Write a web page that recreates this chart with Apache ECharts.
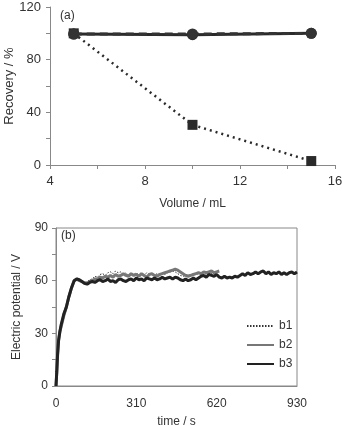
<!DOCTYPE html>
<html>
<head>
<meta charset="utf-8">
<script src="https://cdn.jsdelivr.net/npm/echarts@6/dist/echarts.min.js"></script>
<style>
  html, body { margin: 0; padding: 0; background: #fff; }
  #chart { width: 342px; height: 426px; }
</style>
</head>
<body>
<div id="chart"></div>
<script>
// (a) recovery vs volume
const volumes = [5, 10, 15];
const recoverySolid = [99.5, 99, 100];
const recoveryDashed = [99.5, 99.5, 100];
const recoveryDotted = [100, 30.5, 3];

// (b) electric potential vs time
const b1Time = [0, 3, 6, 10, 15, 20, 25, 30, 40, 50, 60, 70, 80, 90, 100, 110, 120, 130,
  140, 150, 160, 170, 180, 190, 200, 210, 220, 230, 240, 250, 260, 270, 280, 290, 300,
  310, 320, 330, 340, 350, 360, 370, 380, 390, 400, 410, 420, 430, 440, 450, 460, 470,
  480, 490, 500, 510, 520, 530, 540, 550, 560, 570, 580, 590, 600, 610, 620];
const b1Values = [0, 9, 19, 27, 32, 35, 38, 41, 46, 52, 57, 60, 61, 60.5, 60, 59, 59.5, 60.5,
  61, 62.5, 62, 63.5, 64, 63, 64.5, 65, 64, 65.5, 64.5, 65, 63.5, 64.5, 63, 64, 63.5,
  64.5, 63, 64, 63, 64.5, 63.5, 64, 63, 64, 63.5, 64, 63.5, 64.5, 65, 65.5, 65, 64,
  63, 62.5, 63, 63.5, 63, 64, 63.5, 64, 64.5, 63.5, 64, 64.5, 64, 65, 64.5];

const b2Time = [0, 3, 6, 10, 15, 20, 25, 30, 40, 50, 60, 70, 80, 90, 100, 110, 120, 130,
  140, 150, 160, 170, 180, 190, 200, 210, 220, 230, 240, 250, 260, 270, 280, 290, 300,
  310, 320, 330, 340, 350, 360, 370, 380, 390, 400, 410, 420, 430, 440, 450, 460, 470,
  480, 490, 500, 510, 520, 530, 540, 550, 560, 570, 580, 590, 600, 610, 620, 630];
const b2Values = [0, 8, 17, 26, 31, 34, 37, 40, 45, 51, 56, 60, 61, 60, 59.5, 58.5, 58.5, 59.5,
  60, 61, 61, 62, 61.5, 62.5, 62, 63, 62, 63.5, 62.5, 63, 64, 63, 62.5, 64, 63,
  63.5, 62.5, 64, 63, 62, 63.5, 64, 63, 62.5, 63.5, 64, 64.5, 65, 65.5, 66, 66.5, 66,
  65, 64, 63, 62.5, 63, 63.5, 64, 64.5, 64, 65, 64.5, 65, 65.5, 64.5, 65, 65.5];

const b3Time = [0, 3, 6, 10, 15, 20, 25, 30, 40, 50, 60, 70, 80, 90, 100, 110, 120, 130,
  140, 150, 160, 170, 180, 190, 200, 210, 220, 230, 240, 250, 260, 270, 280, 290, 300,
  310, 320, 330, 340, 350, 360, 370, 380, 390, 400, 410, 420, 430, 440, 450, 460, 470,
  480, 490, 500, 510, 520, 530, 540, 550, 560, 570, 580, 590, 600, 610, 620, 630, 640,
  650, 660, 670, 680, 690, 700, 710, 720, 730, 740, 750, 760, 770, 780, 790, 800, 810,
  820, 830, 840, 850, 860, 870, 880, 890, 900, 910, 920, 930];
const b3Values = [0, 8, 18, 26, 31, 35, 38, 41, 45, 51, 56, 60, 61, 60.5, 59.5, 58.5, 58, 59,
  59.5, 59, 60, 60.5, 59.5, 60, 61, 59.5, 60, 59, 60.5, 61, 60, 59.5, 60.5, 61, 60,
  61.5, 60.5, 61, 60, 61.5, 61, 60.5, 61.5, 60.5, 61, 62, 61, 61.5, 62, 61, 62, 61.5,
  60.5, 60, 61, 60, 60.5, 61.5, 60.5, 61.5, 62.5, 63, 62, 63.5, 63, 62.5, 63.5, 62, 61.5,
  62.5, 61.5, 62, 61.5, 62.5, 62, 63, 64, 63, 64.5, 63.5, 64, 65, 64, 65, 65.5, 64,
  65, 63.5, 64.5, 64, 65, 63.5, 64.5, 63.5, 64.5, 65, 64, 65];

const zip = (xs, ys) => xs.map((x, i) => [x, ys[i]]);

const font = 'Liberation Sans, Arial, sans-serif';
const labelA = { color: '#333', fontSize: 13, fontFamily: font };
const labelB = { color: '#333', fontSize: 12, fontFamily: font };
const axisLineStyle = { lineStyle: { color: '#888', width: 1 } };

const chart = echarts.init(document.getElementById('chart'), null, { renderer: 'canvas' });
chart.setOption({
  animation: false,
  textStyle: { fontFamily: font },
  grid: [
    { left: 50, right: 7, top: 7, bottom: 261, outerBoundsMode: 'none' },
    { left: 56, right: 45, top: 228, bottom: 40, outerBoundsMode: 'none',
      show: true, borderColor: '#888', borderWidth: 1 }
  ],
  graphic: [
    { type: 'text', left: 60, top: 10, style: { text: '(a)', fontSize: 12, fill: '#333', fontFamily: font } },
    { type: 'text', left: 61, top: 230, style: { text: '(b)', fontSize: 12, fill: '#333', fontFamily: font } }
  ],
  legend: {
    data: ['b1', 'b2', 'b3'],
    orient: 'vertical',
    left: 241,
    top: 315,
    itemWidth: 27,
    itemHeight: 14,
    itemGap: 7,
    itemStyle: { opacity: 0 },
    textStyle: { color: '#333', fontSize: 12, fontFamily: font }
  },
  xAxis: [
    {
      gridIndex: 0, type: 'value', min: 4, max: 16, interval: 2,
      name: 'Volume / mL', nameLocation: 'middle', nameGap: 33, nameMoveOverlap: false,
      nameTextStyle: labelB,
      axisLine: axisLineStyle,
      axisTick: { show: true, length: 4, lineStyle: { color: '#888' } },
      axisLabel: Object.assign({ formatter: v => (v % 4 === 0 ? v : ''), margin: 10 }, labelA),
      splitLine: { show: false }
    },
    {
      gridIndex: 1, type: 'value', min: 0, max: 930, interval: 310,
      name: 'time / s', nameLocation: 'middle', nameGap: 30, nameMoveOverlap: false,
      nameTextStyle: labelB,
      axisLine: axisLineStyle,
      axisTick: { show: false },
      axisLabel: Object.assign({ margin: 12 }, labelB),
      splitLine: { show: false }
    }
  ],
  yAxis: [
    {
      gridIndex: 0, type: 'value', min: 0, max: 120, interval: 20,
      name: 'Recovery / %', nameLocation: 'middle', nameGap: 34, nameMoveOverlap: false,
      nameTextStyle: labelA,
      axisLine: { show: true, lineStyle: { color: '#888' } },
      axisTick: { show: true, length: 4, lineStyle: { color: '#888' } },
      axisLabel: Object.assign({ formatter: v => (v % 40 === 0 ? v : ''), margin: 9 }, labelA),
      splitLine: { show: false }
    },
    {
      gridIndex: 1, type: 'value', min: 0, max: 90, interval: 15,
      name: 'Electric potential / V', nameLocation: 'middle', nameGap: 33, nameMoveOverlap: false,
      nameTextStyle: labelB,
      axisLine: { show: true, lineStyle: { color: '#888' } },
      axisTick: { show: true, length: 4, lineStyle: { color: '#888' } },
      axisLabel: Object.assign({ formatter: v => (v % 30 === 0 ? v : ''), margin: 8 }, labelB),
      splitLine: { show: false }
    }
  ],
  series: [
    {
      name: 'a-dotted', type: 'line', xAxisIndex: 0, yAxisIndex: 0,
      data: zip(volumes, recoveryDotted),
      symbol: 'rect', symbolSize: 10,
      itemStyle: { color: '#2a2a2a' },
      lineStyle: { color: '#2a2a2a', width: 2.5, type: [2, 4] }
    },
    {
      name: 'a-solid', type: 'line', xAxisIndex: 0, yAxisIndex: 0,
      data: zip(volumes, recoverySolid),
      symbol: 'circle', symbolSize: 11,
      itemStyle: { color: '#2a2a2a' },
      lineStyle: { color: '#2a2a2a', width: 3 }
    },
    {
      name: 'a-dashed', type: 'line', xAxisIndex: 0, yAxisIndex: 0,
      data: zip(volumes, recoveryDashed),
      symbol: 'circle', symbolSize: 11,
      itemStyle: { color: '#333' },
      lineStyle: { color: '#333', width: 3, type: [8, 5] }
    },
    {
      name: 'b1', type: 'line', xAxisIndex: 1, yAxisIndex: 1,
      data: zip(b1Time, b1Values),
      symbol: 'none',
      itemStyle: { color: '#333' },
      lineStyle: { color: '#333', width: 1, type: [1.5, 1.5] }
    },
    {
      name: 'b2', type: 'line', xAxisIndex: 1, yAxisIndex: 1,
      data: zip(b2Time, b2Values),
      symbol: 'none',
      itemStyle: { color: '#777' },
      lineStyle: { color: '#777', width: 3 }
    },
    {
      name: 'b3', type: 'line', xAxisIndex: 1, yAxisIndex: 1,
      data: zip(b3Time, b3Values),
      symbol: 'none',
      itemStyle: { color: '#222' },
      lineStyle: { color: '#222', width: 3 }
    }
  ]
});
</script>
</body>
</html>
